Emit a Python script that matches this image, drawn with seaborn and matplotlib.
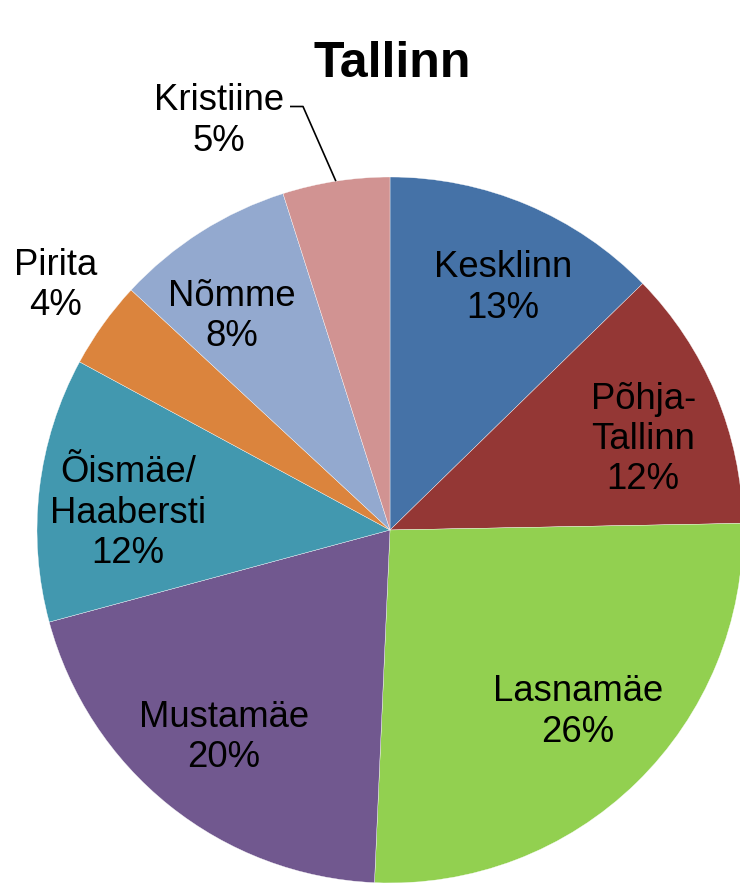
import numpy as np
import matplotlib
matplotlib.use("Agg")
import matplotlib.pyplot as plt
import seaborn as sns

# ---- data ----
districts = ["Kesklinn", "Põhja-\nTallinn", "Lasnamäe", "Mustamäe",
             "Õismäe/\nHaabersti", "Pirita", "Nõmme", "Kristiine"]
shares = [12.7, 12.0, 26.0, 20.1, 12.1, 4.0, 8.2, 4.9]
pct_labels = ["13%", "12%", "26%", "20%", "12%", "4%", "8%", "5%"]
colors = ["#4572A7", "#943735", "#92D050", "#71588F",
          "#4298AF", "#DB843D", "#93A9CF", "#D19392"]
title = "Tallinn"

# label placement (radius as fraction of pie radius, angular shift in degrees)
label_r = [0.765, 0.765, 0.735, 0.745, 0.745, 1.18, 0.76, 1.265]
label_dang = [-1.8, -2.3, 2.2, -0.5, 2.2, -0.9, 3.7, 13.7]

sns.set_theme(style="white")
plt.rcParams["font.family"] = ["Liberation Sans", "DejaVu Sans"]

W, H = 740, 883
fig = plt.figure(figsize=(W / 100, H / 100), dpi=100)
R = 353.0
cx, cy = 390.0, 530.0
ax = fig.add_axes([(cx - R) / W, (H - cy - R) / H, 2 * R / W, 2 * R / H])

wedges, _ = ax.pie(shares, colors=colors, startangle=90, counterclock=False,
                   radius=1.0, wedgeprops=dict(edgecolor="white", linewidth=0.25))
for w in wedges:
    w.set_clip_on(False)
ax.set_xlim(-1, 1)
ax.set_ylim(-1, 1)
ax.set_aspect("equal")
ax.axis("off")

dy = -3.5 / R
for w, name, pct, r, da in zip(wedges, districts, pct_labels, label_r, label_dang):
    mid = 0.5 * (w.theta1 + w.theta2)
    a = np.deg2rad(mid + da)
    ax.text(r * np.cos(a), r * np.sin(a) + dy, f"{name}\n{pct}", ha="center", va="center",
            fontsize=26.3, color="black", linespacing=1.2, clip_on=False)

# leader line for Kristiine
kw = wedges[-1]
mid = np.deg2rad(0.5 * (kw.theta1 + kw.theta2))
ex, ey = np.cos(mid), np.sin(mid)
x0, y0 = (290 - cx) / R, (cy - 106.5) / R
x1 = (303 - cx) / R
ax.plot([x0, x1, ex], [y0, y0, ey], color="black", lw=1.2, clip_on=False,
        solid_capstyle="butt")

fig.text(392 / W, 1 - 77.3 / H, title, ha="center", va="baseline",
         fontsize=36, fontweight="bold", color="black")

fig.savefig("out.png", dpi=100, facecolor="white")
